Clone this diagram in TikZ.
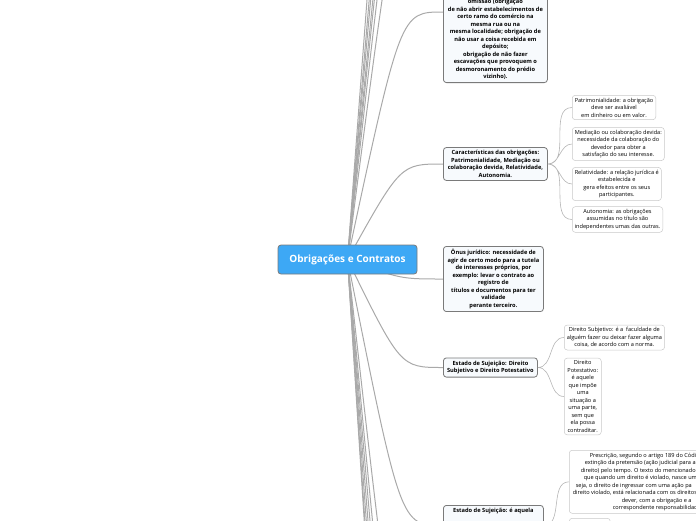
\documentclass[tikz,border=0pt]{standalone}
\usepackage{fontspec}
\setmainfont{Open Sans}
\usetikzlibrary{positioning,backgrounds}
\definecolor{rootblue}{HTML}{3DA8F5}
\definecolor{linkgray}{HTML}{A9A9A9}
\definecolor{topicline}{HTML}{7A7A7A}
\definecolor{topicfill}{HTML}{F7FAFD}
\definecolor{subline}{HTML}{C9C9C9}
\newcommand{\mmsmall}{\fontsize{5.6}{7.5}\selectfont}
\newcommand{\mmbold}{\bfseries\fontsize{5.7}{7.5}\selectfont}

\begin{document}
\begin{tikzpicture}[x=1pt,y=-1pt,
  root/.style={draw=topicline,fill=rootblue,text=white,rounded corners=3pt,line width=.8pt,
    minimum width=139pt,minimum height=29pt,font=\bfseries\fontsize{10}{12}\selectfont},
  topic/.style={draw=topicline,fill=topicfill,rounded corners=3pt,line width=.8pt,
    align=center,inner sep=3pt,font=\mmbold},
  sub/.style={draw=subline,fill=white,rounded corners=3pt,line width=.5pt,
    align=center,inner sep=2.5pt,font=\mmsmall},
  link/.style={draw=linkgray,line width=1pt},
  sublink/.style={draw=linkgray!85,line width=.6pt}]
\useasboundingbox (0,0) rectangle (696,520);

\node[root] (root) at (347.5,259.5) {Obrigações e Contratos};

% topics of the root
\node[topic,anchor=south west,minimum width=104pt] (omiss) at (443,83)
  {omissão (obrigação\\ de não abrir estabelecimentos de\\ certo ramo do comércio na\\
   mesma rua ou na\\ mesma localidade; obrigação de\\ não usar a coisa recebida em\\
   depósito;\\ obrigação de não fazer\\ escavações que provoquem o\\
   desmoronamento do prédio\\ vizinho).};
\coordinate (omissin) at ([yshift=71pt]omiss.south west);
\node[topic,anchor=west,minimum width=104pt] (caract) at (443,164)
  {Características das obrigações:\\ Patrimonialidade, Mediação ou\\
   colaboração devida, Relatividade,\\ Autonomia.};
\node[topic,anchor=west,minimum width=100pt] (onus) at (443,279)
  {Ônus jurídico: necessidade de\\ agir de certo modo para a tutela\\
   de interesses próprios, por\\ exemplo: levar o contrato ao\\ registro de\\
   títulos e documentos para ter\\ validade\\ perante terceiro.};
\node[topic,anchor=west,minimum width=94pt] (estado) at (443,367.5)
  {Estado de Sujeição: Direito\\ Subjetivo e Direito Potestativo};
\node[topic,anchor=north west,minimum width=100pt,text depth=30pt] (aquela) at (443,505)
  {Estado de Sujeição: é aquela};

% branches above and below the picture
\foreach \y [count=\i] in {-150,-215,-260,-290,-340,-380,-450}
  \coordinate (up\i) at (443,\y);
\foreach \y [count=\i] in {730,820,880,940,1000,1060,1090}
  \coordinate (dn\i) at (443,\y);

% children
\node[sub,anchor=west] (patrim) at (572,107.5)
  {Patrimonialidade: a obrigação\\ deve ser avaliável\\ em dinheiro ou em valor.};
\node[sub,anchor=west] (mediac) at (572,144)
  {Mediação ou colaboração devida:\\ necessidade da colaboração do\\
   devedor para obter a\\ satisfação do seu interesse.};
\node[sub,anchor=west] (relat) at (572,184)
  {Relatividade: a relação jurídica é\\ estabelecida e\\
   gera efeitos entre os seus\\ participantes.};
\node[sub,anchor=west] (auton) at (572,219.5)
  {Autonomia: as obrigações\\ assumidas no título são\\ independentes umas das outras.};
\node[sub,anchor=west] (dirsub) at (564,337.5)
  {Direito Subjetivo: é a\ \ faculdade de\\ alguém fazer ou deixar fazer alguma\\
   coisa, de acordo com a norma.};
\node[sub,anchor=west,minimum width=37pt] (dirpot) at (564,396.5)
  {Direito\\ Potestativo:\\ é aquele\\ que impõe\\ uma\\ situação a\\ uma parte,\\
   sem que\\ ela possa\\ contraditar.};
\node[sub,anchor=north west,align=left,inner xsep=3.5pt] (presc) at (569,450)
  {\hspace*{17pt}Prescrição, segundo o artigo 189 do Códi\\
   \hspace*{12pt}extinção da pretensão (ação judicial para a\\
   \hspace*{8pt}direito) pelo tempo. O texto do mencionado a\\
   \hspace*{11pt}que quando um direito é violado, nasce uma\\
   \hspace*{3pt}seja, o direito de ingressar com uma ação pa\\
   direito violado, está relacionada com os direitos\\
   \hspace*{49pt}dever, com a obrigação e a\\
   \hspace*{40pt}correspondente responsabilidad};
\node[sub,anchor=north west,minimum width=41pt,minimum height=20pt] (prox) at (569,518) {};

\begin{scope}[on background layer]
  \foreach \t in {up1,up2,up3,up4,up5,up6,up7,omissin,dn1,dn2,dn3,dn4,dn5,dn6,dn7}
    \draw[link] (root.center) .. controls ([xshift=53pt]root.center |- \t) .. (\t);
  \foreach \t in {caract,onus,estado,aquela}
    \draw[link] (root.center) .. controls ([xshift=53pt]root.center |- \t.west) .. (\t.west);
\end{scope}

\draw[sublink] (caract.east) to[out=0,in=180] (patrim.west)
               (caract.east) to[out=0,in=180] (mediac.west)
               (caract.east) to[out=0,in=180] (relat.west)
               (caract.east) to[out=0,in=180] (auton.west);
\draw[sublink] (estado.east) to[out=0,in=180] (dirsub.west)
               (estado.east) to[out=0,in=180] (dirpot.west);
\draw[sublink] (aquela.east) to[out=0,in=180] (presc.west)
               (aquela.east) to[out=0,in=180] (prox.west);
\end{tikzpicture}
\end{document}
